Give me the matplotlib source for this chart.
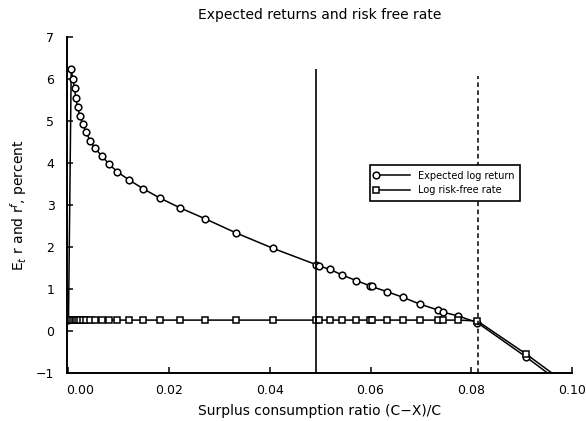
import numpy as np
import matplotlib
matplotlib.use("Agg")
import matplotlib.pyplot as plt
from matplotlib.legend_handler import HandlerLine2D
import matplotlib.transforms as mtransforms

plt.rcParams['font.family'] = ['DejaVu Sans']

# ---- data ----
surplus = [0.0, 0.00054, 0.00085, 0.0012, 0.00145, 0.0018, 0.00225, 0.0028, 0.0035,
           0.0043, 0.0053, 0.0066, 0.0080, 0.0097, 0.0120, 0.0148, 0.0181, 0.0222,
           0.0272, 0.0332, 0.0406, 0.0492, 0.0497, 0.0519, 0.0544, 0.0572, 0.0598,
           0.0602, 0.0632, 0.0665, 0.0698, 0.0734, 0.0743, 0.0774, 0.0812, 0.0908,
           0.0985]
exp_return = [0.26, 6.24, 6.00, 5.78, 5.55, 5.33, 5.13, 4.93, 4.73,
              4.53, 4.35, 4.17, 3.98, 3.79, 3.60, 3.39, 3.17, 2.93,
              2.67, 2.34, 1.97, 1.58, 1.55, 1.47, 1.33, 1.20, 1.08,
              1.06, 0.94, 0.80, 0.64, 0.50, 0.45, 0.36, 0.20, -0.61,
              -1.30]
riskfree = [0.26, 0.26, 0.26, 0.26, 0.26, 0.26, 0.26, 0.26, 0.26,
            0.26, 0.26, 0.26, 0.26, 0.26, 0.26, 0.26, 0.26, 0.26,
            0.26, 0.26, 0.26, 0.26, 0.26, 0.26, 0.26, 0.26, 0.26,
            0.26, 0.26, 0.26, 0.26, 0.26, 0.26, 0.26, 0.24, -0.54,
            -1.22]
steady_state = 0.0492
smax = 0.0814
steady_top = 6.24
smax_top = 6.07

xticks = [0.00, 0.02, 0.04, 0.06, 0.08, 0.10]
xticklabels = ['0.00', '0.02', '0.04', '0.06', '0.08', '0.10']
yticks = [-1, 0, 1, 2, 3, 4, 5, 6, 7]
yticklabels = ['\u22121', '0', '1', '2', '3', '4', '5', '6', '7']

# ---- figure ----
fig = plt.figure(figsize=(5.86, 4.21), dpi=100)
ax = fig.add_axes([0.1143, 0.114, 0.976 - 0.1143, 0.912 - 0.114])

lw = 1.1
ax.plot(surplus, exp_return, color='black', lw=lw, marker='o', ms=4.8,
        mfc='white', mec='black', mew=1.1, label='Expected log return', clip_on=True)
ax.plot(surplus, riskfree, color='black', lw=lw, marker='s', ms=4.5,
        mfc='white', mec='black', mew=1.1, label='Log risk-free rate', clip_on=True)

ax.vlines(steady_state, -1, steady_top, colors='black', lw=1.2)
ax.vlines(smax, -1, smax_top, colors='black', lw=1.1, linestyles=(0, (3, 2.2)))

ax.set_xlim(-0.0003, 0.10)
ax.set_ylim(-1, 7)
ax.set_xticks(xticks)
ax.set_xticklabels(xticklabels)
ax.set_yticks(yticks)
ax.set_yticklabels(yticklabels)

for s in ['top', 'right']:
    ax.spines[s].set_visible(False)
for s in ['left', 'bottom']:
    ax.spines[s].set_linewidth(1.4)

ax.tick_params(axis='both', direction='in', length=4, width=1.1, labelsize=9)
ax.tick_params(axis='y', pad=9)
ax.tick_params(axis='x', pad=8)

# shift first x label slightly right as in reference
lbl0 = ax.get_xticklabels()[0]
lbl0.set_transform(lbl0.get_transform() + mtransforms.ScaledTranslation(12/100, 0, fig.dpi_scale_trans))

ax.set_title('Expected returns and risk free rate', fontsize=10, pad=13)
ax.set_xlabel('Surplus consumption ratio (C\u2212X)/C', fontsize=10, labelpad=5)
ax.set_ylabel(r'E$_t$ r and r$^f$, percent', fontsize=10, labelpad=5)


class MarkerLeft(HandlerLine2D):
    def create_artists(self, legend, orig_handle, xdescent, ydescent, width,
                       height, fontsize, trans):
        arts = super().create_artists(legend, orig_handle, xdescent, ydescent,
                                      width, height, fontsize, trans)
        arts[0].set_markevery([0])
        return arts


leg = ax.legend(loc='upper left', bbox_to_anchor=(0.6, 0.619), borderaxespad=0,
                fontsize=7, numpoints=1, handlelength=3.5, handletextpad=0.8,
                labelspacing=0.45, borderpad=0.6, fancybox=False, framealpha=1,
                edgecolor='black',
                handler_map={matplotlib.lines.Line2D: MarkerLeft()})
leg.get_frame().set_linewidth(1.2)

fig.savefig('out.png', dpi=100)
